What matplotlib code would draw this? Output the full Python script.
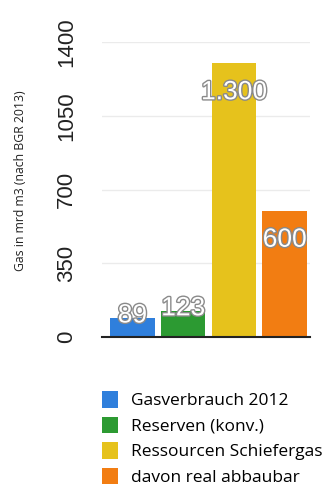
import numpy as np
import matplotlib
matplotlib.use("Agg")
import matplotlib.pyplot as plt
import matplotlib.patheffects as pe
from matplotlib.patches import Patch

categories = ["Gasverbrauch 2012", "Reserven (konv.)",
              "Ressourcen Schiefergas", "davon real abbaubar"]
values = [89, 123, 1300, 600]
value_labels = ["89", "123", "1.300", "600"]
colors = ["#2f7fdc", "#2c9a32", "#e6c21c", "#f27d12"]
yticks = [0, 350, 700, 1050, 1400]

plt.rcParams["font.family"] = ["Liberation Sans", "DejaVu Sans"]

fig = plt.figure(figsize=(3.29, 4.95), dpi=100)
ax = fig.add_axes([102/329, 158/495, 208/329, 295/495])

x = np.arange(len(values))
ax.bar(x, values, width=0.88, color=colors, zorder=2)
ax.set_xlim(-0.6, len(values) - 0.5)
ax.set_ylim(0, 1400)

for xi, v, lab in zip(x, values, value_labels):
    off = -21 if v > 300 else 2
    t = ax.annotate(lab, (xi, v), xytext=(0, off), textcoords="offset points",
                    ha="center", va="center", fontsize=19, color="white",
                    zorder=5, annotation_clip=False)
    t.set_path_effects([pe.withStroke(linewidth=2, foreground="#8a8a8a")])

ax.set_yticks(yticks)
ax.set_yticklabels([str(t) for t in yticks], rotation=90, va="center",
                   fontsize=16, color="#222222")
ax.tick_params(axis="y", length=0, pad=18)
ax.set_xticks([])
ax.grid(axis="y", color="#ebebeb", linewidth=1, zorder=0)
for s in ["top", "right", "left"]:
    ax.spines[s].set_visible(False)
ax.spines["bottom"].set_color("#222222")
ax.spines["bottom"].set_linewidth(1.5)
ax.spines["bottom"].set_zorder(4)

fig.text(21/329, 1 - 181/495, "Gas in mrd m3 (nach BGR 2013)", rotation=90,
         ha="center", va="center", color="#222222",
         family=["Open Sans", "DejaVu Sans"], fontsize=8.8)

handles = [Patch(facecolor=c, edgecolor="none") for c in colors]
fig.legend(handles, categories, loc="upper left",
           bbox_to_anchor=(102/329, 1 - 391/495), frameon=False,
           borderpad=0, borderaxespad=0,
           handlelength=0.95, handleheight=1.1,
           handletextpad=0.7, labelspacing=0.42,
           prop={"family": ["Open Sans", "DejaVu Sans"], "size": 12.5})

fig.savefig("out.png", dpi=100)
